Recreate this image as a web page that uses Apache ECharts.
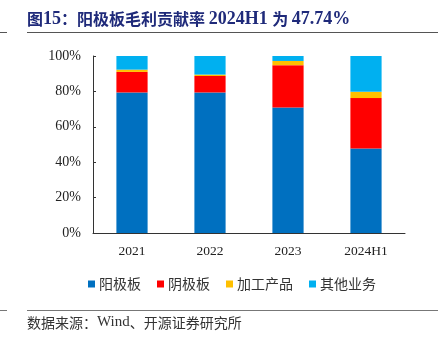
<!DOCTYPE html>
<html><head><meta charset="utf-8">
<script src="https://cdn.jsdelivr.net/npm/echarts@6/dist/echarts.min.js"></script>
<style>html,body{margin:0;padding:0;background:#fff}#c{width:440px;height:348px}</style>
</head><body><div id="c"></div>
<script>
var categories = ['2021', '2022', '2023', '2024H1'];
var seriesNames = ['阳极板', '阴极板', '加工产品', '其他业务'];
var anode = [79.4, 79.4, 70.9, 47.74];
var cathode = [11.6, 9.3, 23.9, 28.5];
var processed = [1.3, 0.8, 2.4, 3.5];
var other = [7.7, 10.5, 2.8, 20.26];
var yTicks = [0, 20, 40, 60, 80, 100];

var colors = ['#0070C0', '#FF0000', '#FFC000', '#00B0F0'];
var serif = '"Liberation Serif","Times New Roman",serif';
var cjk = '"Noto Sans CJK SC",sans-serif';
var chart = echarts.init(document.getElementById('c'));
var data = [anode, cathode, processed, other];
chart.setOption({
  animation: false,
  color: colors,
  grid: {left: 93, right: 35, top: 56, bottom: 115, containLabel: false},
  graphic: [
    {type: 'text', left: 27, top: 10, style: {
      text: '{c|图}{l|15}{c|：阳极板毛利贡献率 }{l|2024H1 }{c|为 }{l|47.74%}',
      rich: {
        c: {fontFamily: cjk, fontWeight: 'bold', fontSize: 16, fill: '#1F2A7A', color: '#1F2A7A'},
        l: {fontFamily: serif, fontWeight: 'bold', fontSize: 18, fill: '#1F2A7A', color: '#1F2A7A'}
      }
    }},
    {type: 'line', shape: {x1: 27, y1: 32.5, x2: 438, y2: 32.5}, style: {stroke: '#555', lineWidth: 1}},
    {type: 'line', shape: {x1: 0, y1: 32.5, x2: 7, y2: 32.5}, style: {stroke: '#555', lineWidth: 1}},
    {type: 'line', shape: {x1: 27, y1: 310.5, x2: 438, y2: 310.5}, style: {stroke: '#777', lineWidth: 1}},
    {type: 'line', shape: {x1: 0, y1: 310.5, x2: 7, y2: 310.5}, style: {stroke: '#777', lineWidth: 1}},
    {type: 'text', left: 27, top: 315, style: {
      text: '{c|数据来源：}{l|Wind}{c|、开源证券研究所}',
      rich: {
        c: {fontFamily: cjk, fontSize: 14, fill: '#333', color: '#333'},
        l: {fontFamily: serif, fontSize: 15, fill: '#333', color: '#333'}
      }
    }}
  ],
  legend: {
    data: seriesNames, top: 272, left: 83, itemWidth: 7, itemHeight: 7, itemGap: 16,
    icon: 'rect', textStyle: {fontFamily: cjk, fontSize: 14, color: '#333', padding: [0, 0, 0, -1]}
  },
  xAxis: {
    type: 'category', data: categories,
    axisLine: {lineStyle: {color: '#333'}},
    axisTick: {inside: true, length: 4, lineStyle: {color: '#333'}},
    axisLabel: {fontFamily: serif, fontSize: 13.5, color: '#222', margin: 11}
  },
  yAxis: {
    type: 'value', min: 0, max: 100, interval: 20,
    splitLine: {show: false},
    axisLine: {show: true, lineStyle: {color: '#333'}},
    axisTick: {show: true, inside: true, length: 3, lineStyle: {color: '#333'}},
    axisLabel: {formatter: '{value}%', fontFamily: serif, fontSize: 14, color: '#222', margin: 12}
  },
  series: seriesNames.map(function (n, i) {
    return {name: n, type: 'bar', stack: 'total', barWidth: '40%', data: data[i]};
  })
});
</script></body></html>
